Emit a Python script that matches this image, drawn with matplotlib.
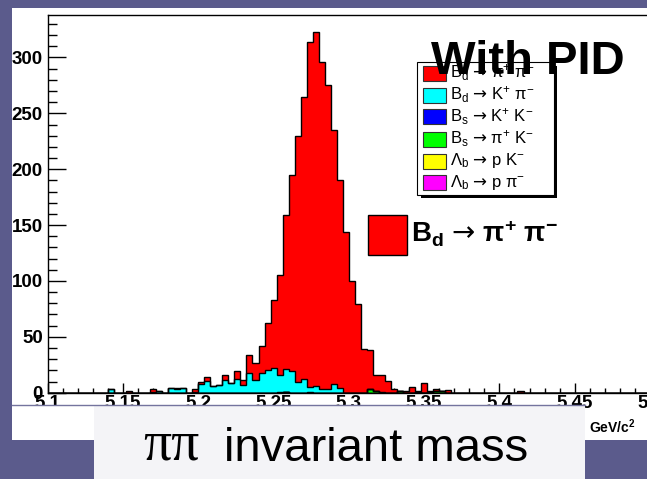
import numpy as np
import matplotlib
matplotlib.use("Agg")
from matplotlib import pyplot as plt
from matplotlib.patches import Rectangle
from matplotlib.lines import Line2D
from matplotlib.ticker import MultipleLocator, FuncFormatter

plt.rcParams['font.family'] = ['Liberation Sans', 'DejaVu Sans']
plt.rcParams['mathtext.fontset'] = 'custom'
plt.rcParams['mathtext.rm'] = 'Liberation Sans'
plt.rcParams['mathtext.it'] = 'Liberation Sans:italic'
plt.rcParams['mathtext.bf'] = 'Liberation Sans:bold'
plt.rcParams['mathtext.sf'] = 'DejaVu Sans'

# 100 bins of 4 MeV between 5.1 and 5.5 GeV/c^2
mass_lo, mass_hi, n_bins = 5.1, 5.5, 100

# Bd -> pi+ pi- (red)
bd_pipi = [0, 0, 0, 0, 0, 0, 0, 0, 0, 0,
           0, 0, 0, 1.5, 0, 0, 0, 2, 0, 0,
           0, 1.5, 0, 0, 2.5, 2.5, 3.5, 0, 0, 5,
           0, 7, 4, 16.5, 15.5, 24, 41.5, 60.5, 89, 138,
           176, 220, 252.5, 308.5, 317, 292.5, 271.5, 227, 185.5, 144,
           100, 79, 39.5, 35, 14.5, 15, 10.5, 3, 0, 1.5,
           5, 1, 9, 0.5, 2, 0, 2, 0, 0, 0,
           0, 0, 0, 0, 0, 0, 0, 0, 1.5, 0,
           0, 0, 0, 0, 0, 0, 0, 0, 0, 0,
           0, 0, 0, 0, 0, 0, 0, 0, 0, 0]
# Bd -> K+ pi- (cyan)
bd_kpi = [0, 0, 0, 0, 0, 0, 0, 0, 0, 0,
          3, 0, 0, 0, 0, 0, 0, 1, 1.5, 0,
          4, 3, 4, 0, 1, 7.5, 10.5, 6, 7, 11,
          9, 12, 7, 17.5, 11.5, 18, 20.5, 22.5, 15, 20.5,
          19, 10, 12.5, 4.5, 6, 3.5, 3.5, 8, 4.5, 0,
          0, 0, 0, 0, 0, 1, 0, 0, 0, 0,
          0, 0, 0, 0, 0, 0, 0, 0, 0, 0,
          0, 0, 0, 0, 0, 0, 0, 0, 0, 0,
          0, 0, 0, 0, 0, 0, 0, 0, 0, 0,
          0, 0, 0, 0, 0, 0, 0, 0, 0, 0]
# Bs -> K+ K- (blue)
bs_kk = [0] * 38 + [1, 0, 0, 0, 0, 1] + [0] * 56
# Bs -> pi+ K- (green)
bs_pik = [0] * 53 + [3, 1.5, 0, 0, 0, 1.5, 0, 0, 0, 0, 0, 1.5, 1.5] + [0] * 34
# Lambda_b -> p K- (yellow)
lb_pk = [0] * 100
# Lambda_b -> p pi- (magenta)
lb_ppi = [0] * 39 + [0.5] + [0] * 21 + [0.7, 0, 0.7] + [0] * 36

arrow = r"$\mathsf{→}$"
legend_labels = [r"B$_\mathrm{d}$ " + arrow + r" π$^{+}$ π$^{-}$",
                 r"B$_\mathrm{d}$ " + arrow + r" K$^{+}$ π$^{-}$",
                 r"B$_\mathrm{s}$ " + arrow + r" K$^{+}$ K$^{-}$",
                 r"B$_\mathrm{s}$ " + arrow + r" π$^{+}$ K$^{-}$",
                 r"Λ$_\mathrm{b}$ " + arrow + r" p K$^{-}$",
                 r"Λ$_\mathrm{b}$ " + arrow + r" p π$^{-}$"]
colors = ["#ff0000", "#00ffff", "#0000ff", "#00ff00", "#ffff00", "#ff00ff"]

W, H = 647, 479


def fx(px):
    return px / W


def fy(py):
    return 1 - py / H


fig = plt.figure(figsize=(W / 100, H / 100), dpi=100, facecolor="#5b5b8c")

# white pad of the pasted picture
fig.add_artist(Rectangle((fx(12), fy(440)), 1.0, fy(8) - fy(440), transform=fig.transFigure,
                         facecolor="white", edgecolor="none", zorder=-1))

ax = fig.add_axes([fx(47.7), fy(392.7), (650 - 47.7) / W, (392.7 - 15) / H])
ax.set_facecolor("white")

edges = np.linspace(mass_lo, mass_hi, n_bins + 1)
# stack bottom -> top: magenta, yellow, green, blue, cyan, red
components = [lb_ppi, lb_pk, bs_pik, bs_kk, bd_kpi, bd_pipi]
comp_colors = colors[::-1]
cumulative = np.cumsum(np.array(components, dtype=float), axis=0)
for level in range(len(components) - 1, -1, -1):
    ax.stairs(cumulative[level], edges, baseline=0, fill=True, color=comp_colors[level], zorder=2)
    ax.stairs(cumulative[level], edges, baseline=0, color="black", linewidth=1.0, zorder=3)

ax.set_xlim(mass_lo, mass_hi)
ax.set_ylim(0, 338)
ax.xaxis.set_major_locator(MultipleLocator(0.05))
ax.xaxis.set_minor_locator(MultipleLocator(0.01))
ax.yaxis.set_major_locator(MultipleLocator(50))
ax.yaxis.set_minor_locator(MultipleLocator(10))
ax.xaxis.set_major_formatter(FuncFormatter(lambda v, p: "%g" % round(v, 2)))
ax.yaxis.set_major_formatter(FuncFormatter(lambda v, p: "%d" % v))
ax.tick_params(axis="both", which="both", direction="in", top=False, right=False, width=1.0)
ax.tick_params(axis="x", which="major", length=7.5, pad=1.5, labelsize=13.5)
ax.tick_params(axis="x", which="minor", length=3.8)
ax.tick_params(axis="y", which="major", length=13, pad=3.5, labelsize=13.5)
ax.tick_params(axis="y", which="minor", length=6.5)
for lab in ax.get_xticklabels() + ax.get_yticklabels():
    lab.set_fontweight("bold")
for sp in ax.spines.values():
    sp.set_linewidth(1.0)
    sp.set_color("black")

# slide text box covering the lower part of the picture
fig.add_artist(Rectangle((fx(94), fy(480)), fx(585) - fx(94), fy(405) - fy(480), transform=fig.transFigure,
                         facecolor="#f4f4f7", edgecolor="none", zorder=5))
fig.add_artist(Rectangle((fx(12), fy(440)), fx(94) - fx(12), fy(405.5) - fy(440), transform=fig.transFigure,
                         facecolor="white", edgecolor="none", zorder=5))
fig.add_artist(Line2D([fx(12), fx(585)], [fy(405), fy(405)], transform=fig.transFigure,
                      color="#74749e", linewidth=1.0, zorder=6))
fig.text(fx(143), fy(460), "ππ", family="Liberation Serif", fontsize=40, va="baseline", zorder=7)
fig.text(fx(224), fy(461), "invariant mass", fontsize=34, va="baseline", zorder=7)
fig.text(fx(589), fy(427), r"GeV/c$^\mathbf{2}$", fontsize=10, fontweight="bold", va="center", zorder=7)

# legend box
fig.add_artist(Rectangle((fx(421), fy(198)), fx(557) - fx(421), fy(66) - fy(198), transform=fig.transFigure,
                         facecolor="black", edgecolor="none", zorder=3))
fig.add_artist(Rectangle((fx(417), fy(195)), fx(554) - fx(417), fy(62) - fy(195), transform=fig.transFigure,
                         facecolor="white", edgecolor="black", linewidth=0.8, zorder=3.5))
row_y = [73, 95, 117, 139, 161, 182]
for yy, lab, col in zip(row_y, legend_labels, colors):
    fig.add_artist(Rectangle((fx(423), fy(yy + 7.5)), fx(446) - fx(423), fy(yy - 7.5) - fy(yy + 7.5),
                             transform=fig.transFigure, facecolor=col, edgecolor="#333333",
                             linewidth=0.8, zorder=4))
    fig.text(fx(450), fy(yy), lab, fontsize=12, va="center", zorder=4)

fig.text(fx(431), fy(62), "With PID", fontsize=34, fontweight="bold", va="center", zorder=6)

# enlarged label of the signal channel
fig.add_artist(Rectangle((fx(368), fy(255)), fx(407) - fx(368), fy(215) - fy(255), transform=fig.transFigure,
                         facecolor="#ff0000", edgecolor="black", linewidth=1.0, zorder=4))
fig.text(fx(411), fy(234), r"B$_\mathbf{d}$ $\mathsf{→}$ π$^\mathbf{+}$ π$^\mathbf{-}$", fontsize=20,
         fontweight="bold", va="center", zorder=4)

fig.savefig("out.png", dpi=100, facecolor=fig.get_facecolor())
